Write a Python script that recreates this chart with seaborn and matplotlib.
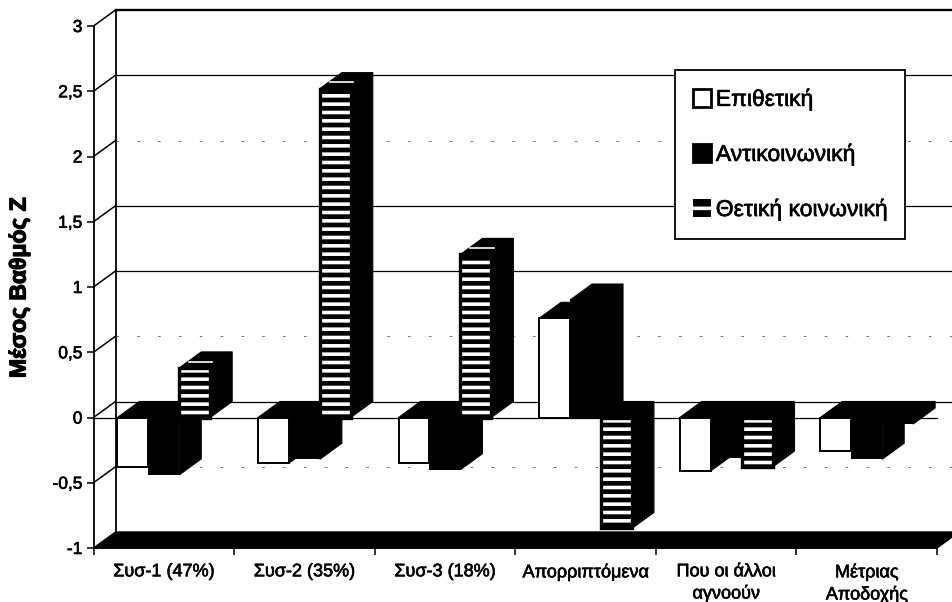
import numpy as np
import pandas as pd
import matplotlib
matplotlib.use('Agg')
import matplotlib.pyplot as plt
import matplotlib.patheffects as pe
from matplotlib.patches import Patch, Polygon, Rectangle
import seaborn as sns

groups = ['Συσ-1 (47%)', 'Συσ-2 (35%)', 'Συσ-3 (18%)', 'Απορριπτόμενα',
          'Που οι άλλοι\nαγνοούν', 'Μέτριας\nΑποδοχής']
series = ['Επιθετική', 'Αντικοινωνική', 'Θετική κοινωνική']
epithetiki = [-0.38, -0.35, -0.35, 0.76, -0.41, -0.26]
antikoinoniki = [-0.44, -0.32, -0.40, 0.90, -0.31, -0.32]
thetiki = [0.38, 2.52, 1.25, -0.85, -0.38, -0.05]
yticks = [-1, -0.5, 0, 0.5, 1, 1.5, 2, 2.5, 3]
yticklabels = ['-1', '-0,5', '0', '0,5', '1', '1,5', '2', '2,5', '3']
strong_grid = [1, 1.5, 2.5, 3]

W, H = 952, 602
plt.rcParams['font.family'] = ['Liberation Sans', 'DejaVu Sans']
plt.rcParams['hatch.linewidth'] = 2.6

df = pd.DataFrame({
    'group': np.tile(groups, 3),
    'series': np.repeat(series, 6),
    'value': epithetiki + antikoinoniki + thetiki,
})

fig = plt.figure(figsize=(W / 100, H / 100), dpi=100)
ax = fig.add_axes([93.5 / W, 1 - 548 / H, (937 - 93.5) / W, (548 - 26) / H])
sns.barplot(data=df, x='group', y='value', hue='series', hue_order=series,
            palette=['white', 'black', 'black'], saturation=1, width=0.66,
            gap=0, legend=False, ax=ax)
ax.set_xlim(-0.5, 5.5)
ax.set_ylim(-1, 3)
ax.set_xlabel('')
ax.set_ylabel('')

# depth of the fake 3d box, in data units
dx = 22 / ((937 - 93.5) / 6)
dy = 16 / ((548 - 26) / 4)

# walls and floor
xl, xr = -0.5, 5.5
ax.add_patch(Polygon([(xl, -1), (xl + dx, -1 + dy), (xr + dx, -1 + dy), (xr, -1)],
                     fc='black', ec='black', zorder=1, clip_on=False))
ax.plot([xl + dx, xl + dx], [-1 + dy, 3 + dy], color='black', lw=1.3, zorder=1, clip_on=False)
for t in yticks[1:]:
    ax.plot([xl, xl + dx], [t, t + dy], color='black', lw=1.1, zorder=1, clip_on=False)
    if t in strong_grid:
        ax.plot([xl + dx, xr + dx], [t + dy, t + dy], color='black', lw=1.7 if t == 3 else 0.9,
                zorder=1, clip_on=False)
    elif t == 0:
        ax.plot([xl + dx, xr + dx], [t + dy, t + dy], color='black', lw=0.9, zorder=1, clip_on=False)
        ax.plot([xl, xr], [t, t], color='black', lw=0.9, zorder=1, clip_on=False)
    else:
        ax.plot([xl + dx, xr + dx], [t + dy, t + dy], color='#555555', lw=0.6,
                ls=(0, (3, 22)), zorder=1, clip_on=False)

# bars: side and top faces, left to right so that the next bar covers the previous side
bars = []
for j, cont in enumerate(ax.containers):
    for p in cont.patches:
        bars.append((p.get_x(), j, p))
bars.sort(key=lambda b: b[0])

for k, (x0, j, p) in enumerate(bars):
    z = 3 + k * 0.1
    x1 = x0 + p.get_width()
    y0, y1 = sorted([p.get_y(), p.get_y() + p.get_height()])
    y1 = max(y1, 0)
    side = [(x1, y0), (x1 + dx, y0 + dy), (x1 + dx, y1 + dy), (x1, y1)]
    top = [(x0, y1), (x0 + dx, y1 + dy), (x1 + dx, y1 + dy), (x1, y1)]
    ax.add_patch(Polygon(side, fc='black', ec='black', lw=0.8, zorder=z, clip_on=False))
    ax.add_patch(Polygon(top, fc='black', ec='black', lw=0.8, zorder=z, clip_on=False))
    p.set_zorder(z + 0.02)
    if j == 0:
        p.set_edgecolor('black')
        p.set_linewidth(1.4)
    else:
        p.set_linewidth(0)
    if j == 2 and abs(p.get_height()) > 0.1:
        p.set_edgecolor('white')
        p.set_hatch('--')
        ax.add_patch(Rectangle((x0, p.get_y()), p.get_width(), p.get_height(), fc='none',
                               ec='black', lw=2.4, zorder=z + 0.04))
        if p.get_height() > 0:
            # light streak on the top face
            ax.plot([x0 + 0.45 * dx, x1 + 0.1 * dx], [y1 + 0.4 * dy, y1 + 0.4 * dy], color='white',
                    lw=1.2, zorder=z + 0.03, clip_on=False)

# axes
for s in ['top', 'right']:
    ax.spines[s].set_visible(False)
ax.spines['left'].set_linewidth(1.3)
ax.spines['bottom'].set_linewidth(1.3)
ax.spines['left'].set_zorder(2)
ax.set_yticks(yticks, yticklabels, fontsize=12.5)
ax.tick_params(axis='y', length=5, width=1.1, pad=3)
ax.set_xticks(np.arange(-0.5, 6), [''] * 7)
ax.tick_params(axis='x', length=5, width=1.1)
ax.set_xticks(range(6), groups, minor=True, fontsize=13, linespacing=1.3)
ax.tick_params(axis='x', which='minor', length=0, pad=11)
ylab = fig.text(19 / W, 1 - 288 / H, 'Μέσος Βαθμός Ζ', rotation=90, ha='center', va='center',
                fontsize=16.5, fontweight='bold')

handles = [Patch(fc='white', ec='black', lw=2),
           Patch(fc='black', ec='black', lw=2),
           Patch(fc='black', ec='white', lw=0, hatch='-')]
leg = ax.legend(handles, series, loc='upper left', bbox_to_anchor=(675 / W, 1 - 70 / H),
                bbox_transform=fig.transFigure, frameon=True, fancybox=False, framealpha=1,
                edgecolor='black', fontsize=16.5, labelspacing=1.4, handlelength=0.8,
                handleheight=0.8, handletextpad=0.2, borderpad=0.78, borderaxespad=0)
leg.set_zorder(20)
leg.get_frame().set_linewidth(1.3)

# the scan makes the type look heavier
stroke = [pe.withStroke(linewidth=0.45, foreground='black')]
for txt in ax.get_yticklabels() + ax.get_xticklabels(minor=True) + leg.get_texts():
    txt.set_path_effects(stroke)
ylab.set_path_effects([pe.withStroke(linewidth=0.9, foreground='black')])

fig.savefig('out.png', dpi=100)
